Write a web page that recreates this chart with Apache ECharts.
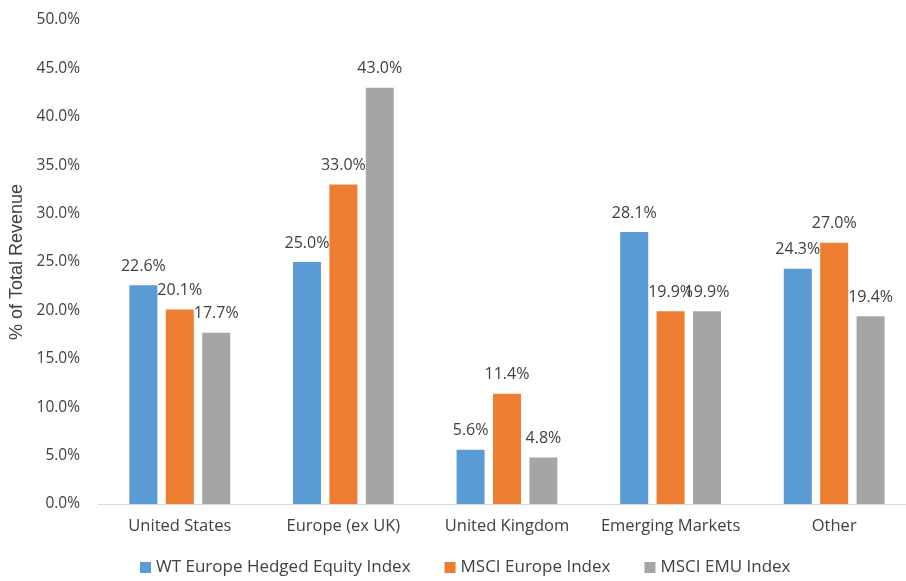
<!DOCTYPE html>
<html>
<head>
<meta charset="utf-8">
<script src="https://cdn.jsdelivr.net/npm/echarts@6/dist/echarts.min.js"></script>
<style>
  html, body { margin: 0; padding: 0; background: #fff; }
  #chart { width: 906px; height: 581px; }
</style>
</head>
<body>
<div id="chart"></div>
<script>
// revenue share by region, in percent
var categories = ['United States', 'Europe (ex UK)', 'United Kingdom', 'Emerging Markets', 'Other'];
var wtHedged = [22.6, 25.0, 5.6, 28.1, 24.3];
var msciEurope = [20.1, 33.0, 11.4, 19.9, 27.0];
var msciEmu = [17.7, 43.0, 4.8, 19.9, 19.4];
var seriesNames = ['WT Europe Hedged Equity Index', 'MSCI Europe Index', 'MSCI EMU Index'];
var colors = ['#5B9BD5', '#ED7D31', '#A5A5A5'];

var font = 'Open Sans';
var myChart = echarts.init(document.getElementById('chart'));

function bar(name, data, color) {
    return {
        name: name,
        type: 'bar',
        data: data,
        barWidth: 28,
        barGap: '30%',
        itemStyle: { color: color },
        label: {
            show: true,
            position: 'top',
            distance: 11,
            color: '#404040',
            fontFamily: font,
            fontSize: 16,
            formatter: function (p) { return p.value.toFixed(1) + '%'; }
        }
    };
}

option = {
    animation: false,
    color: colors,
    grid: {
        left: 98,
        top: 20,
        width: 818,
        height: 484,
        outerBoundsMode: 'none'
    },
    legend: {
        left: 135,
        bottom: 0,
        itemWidth: 11,
        itemHeight: 11,
        itemGap: 34,
        icon: 'rect',
        textStyle: { color: '#404040', fontFamily: font, fontSize: 17 },
        data: seriesNames
    },
    xAxis: {
        type: 'category',
        data: categories,
        axisLine: { lineStyle: { color: '#D9D9D9', width: 1 } },
        axisTick: { show: false },
        axisLabel: { interval: 0, color: '#404040', fontFamily: font, fontSize: 16.5, margin: 14 }
    },
    yAxis: {
        type: 'value',
        min: 0,
        max: 50,
        interval: 5,
        name: '% of Total Revenue',
        nameLocation: 'middle',
        nameGap: 72,
        nameTextStyle: { color: '#404040', fontFamily: 'Liberation Sans', fontSize: 18 },
        splitLine: { show: false },
        axisLine: { show: false },
        axisTick: { show: false },
        axisLabel: {
            color: '#404040', fontFamily: font, fontSize: 15.5, margin: 18,
            formatter: function (v) { return v.toFixed(1) + '%'; }
        }
    },
    series: [
        bar(seriesNames[0], wtHedged, colors[0]),
        bar(seriesNames[1], msciEurope, colors[1]),
        bar(seriesNames[2], msciEmu, colors[2])
    ]
};

myChart.setOption(option);
</script>
</body>
</html>
